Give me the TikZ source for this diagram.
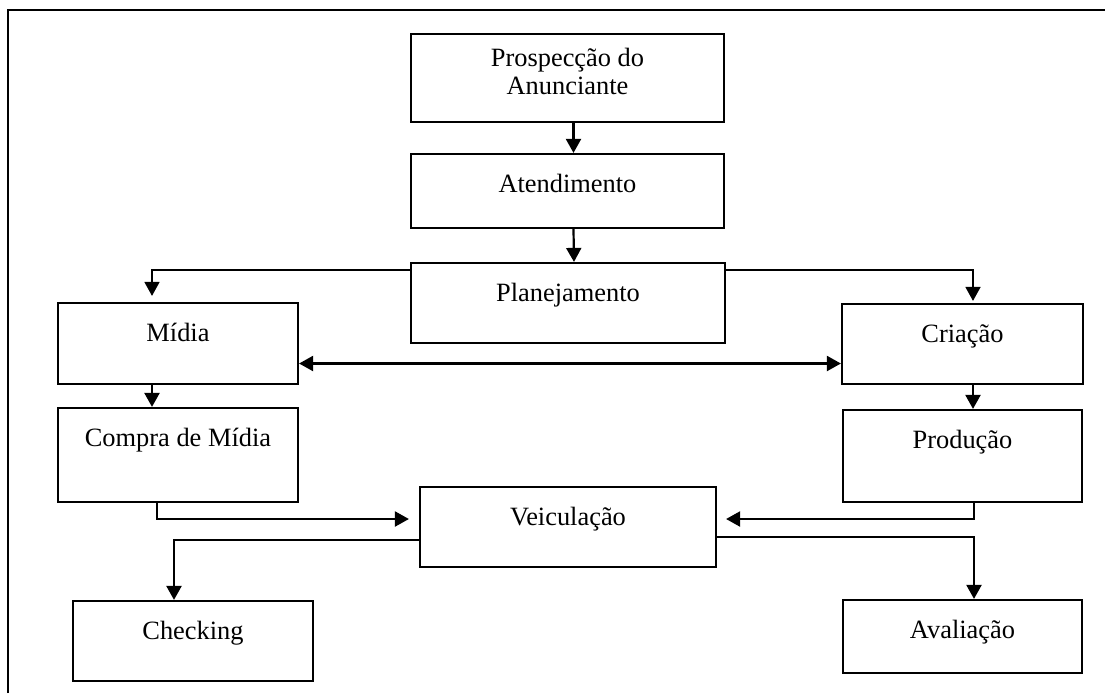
\documentclass[tikz,border=0pt]{standalone}
\usepackage{fontspec}
\setmainfont{Liberation Serif}
\usetikzlibrary{arrows.meta}

\tikzset{
  box/.style={shape=rectangle, draw=black, line width=1.1pt, text height=11pt, text depth=#1,
    font=\fontsize{13.2pt}{14pt}\selectfont},
  flow/.style={line width=1.1pt, -{Triangle[length=7pt,width=7.5pt]}},
  flowboth/.style={line width=1.1pt, {Triangle[length=7pt,width=7.5pt]}-{Triangle[length=7pt,width=7.5pt]}}
}

\begin{document}
\begin{tikzpicture}[x=0.5pt,y=-0.5pt]
  \useasboundingbox (0,0) rectangle (1105,693);
  \draw[line width=1.1pt] (8,693) -- (8,10) -- (1105,10);

  \node[box=1pt, text height=17pt, align=center, minimum width=156.5pt, minimum height=44pt] (prosp) at (567.5,78) {Prospecção do\\Anunciante};
  \node[box=10pt, minimum width=156.5pt, minimum height=37pt] (atend) at (567.5,191) {Atendimento};
  \node[box=13pt, minimum width=157pt, minimum height=40pt] (plan) at (568,303) {Planejamento};
  \node[box=13.5pt, minimum width=120pt, minimum height=40.5pt] (midia) at (178,343.5) {Mídia};
  \node[box=20pt, minimum width=120pt, minimum height=47pt] (compra) at (178,455) {Compra de Mídia};
  \node[box=13pt, minimum width=120.5pt, minimum height=40pt] (criacao) at (962.5,344) {Criação};
  \node[box=19pt, minimum width=119.5pt, minimum height=46pt] (producao) at (962.5,456) {Produção};
  \node[box=13pt, minimum width=148pt, minimum height=40pt] (veic) at (568,527) {Veiculação};
  \node[box=13pt, minimum width=120pt, minimum height=40pt] (checking) at (193,641) {Checking};
  \node[box=9.5pt, minimum width=119.5pt, minimum height=36.5pt] (avaliacao) at (962.5,636.5) {Avaliação};

  \draw[flow] ([xshift=3pt]prosp.south) -- ([xshift=3pt]atend.north);
  \draw[flow] ([xshift=3pt]atend.south) -- ([xshift=3pt]plan.north);
  \draw[flow, line width=0.8pt, shorten >=3pt] ([yshift=-4pt]plan.north west) -| ([xshift=-13pt]midia.north);
  \draw[flow, line width=0.8pt, shorten >=1pt] ([yshift=-4pt]plan.north east) -| ([xshift=5.25pt]criacao.north);
  \draw[flow] ([xshift=-13pt]midia.south) -- ([xshift=-13pt]compra.north);
  \draw[flow] ([xshift=5.25pt]criacao.south) -- ([xshift=5.25pt]producao.north);
  \draw[flowboth] ([yshift=-10pt]midia.east) -- ([yshift=-10pt]midia.east -| criacao.west);
  \draw[flow, shorten >=5pt] ([xshift=-10.5pt]compra.south) |- ([yshift=4pt]veic.west);
  \draw[flow, shorten >=4.5pt] ([xshift=5.75pt]producao.south) |- ([yshift=4pt]veic.east);
  \draw[flow] ([yshift=-6.5pt]veic.west) -| ([xshift=-9.5pt]checking.north);
  \draw[flow] ([yshift=-5pt]veic.east) -| ([xshift=5.75pt]avaliacao.north);
\end{tikzpicture}
\end{document}
